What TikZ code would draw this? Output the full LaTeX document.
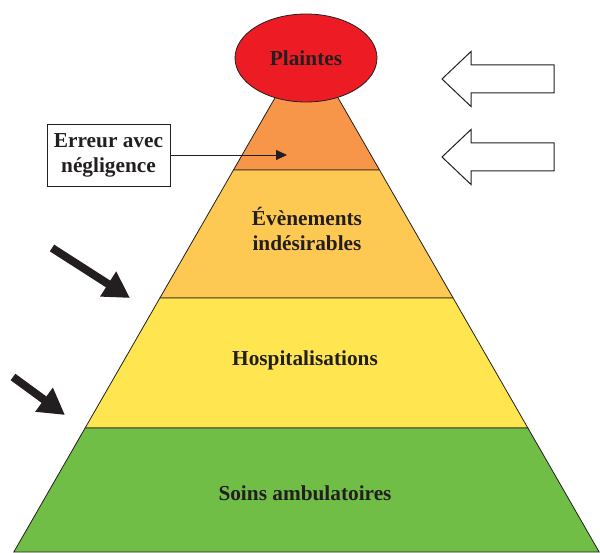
\documentclass[tikz,border=0pt]{standalone}
\usepackage{fontspec}
\setmainfont{Liberation Serif}
\usetikzlibrary{shapes.geometric,arrows.meta}
\definecolor{rouge}{RGB}{237,28,36}
\definecolor{orangetop}{RGB}{247,150,72}
\definecolor{orangemid}{RGB}{254,201,82}
\definecolor{jaune}{RGB}{255,230,80}
\definecolor{vert}{RGB}{112,190,70}
\definecolor{texte}{RGB}{35,31,32}
\begin{document}
\begin{tikzpicture}[x=1pt, y=1pt, >={Triangle[length=11pt,width=10pt]}]
      \tikzstyle{label}=[text=texte, font=\fontsize{21.3}{25}\selectfont\bfseries, align=center]
      \tikzstyle{niveau}=[draw=texte, line width=0.8pt]
      \useasboundingbox (0,0) rectangle (600,552);

      % draw pyramid levels

      \foreach \t/\b/\c in {509/382/orangetop, 382/254/orangemid, 254/124/jaune, 124/0/vert}
      \filldraw [niveau, fill=\c] ({306.5-0.575*(509-\t)},\t) -- ({306.5+0.575*(509-\t)},\t)
          -- ({306.5+0.575*(509-\b)},\b) -- ({306.5-0.575*(509-\b)},\b) -- cycle;

      \node [niveau, ellipse, fill=rouge, minimum width=142, minimum height=88, label] (plaintes) at (306,494) {Plaintes};

      % draw text

      \node [label] (evenements) at (307,323) {Évènements\\indésirables};
      \node [label] (hospit) at (305,192) {Hospitalisations};
      \node [label] (soins) at (305,59) {Soins ambulatoires};

      \node [label, draw=texte, line width=0.8pt, fill=white, minimum width=123, minimum height=62, inner sep=2pt] (erreur) at (108.5,397) {Erreur avec\\négligence};
      \coordinate (err-tip) at (287,397);
      \draw [->, texte, line width=0.8pt] (erreur) -- (err-tip);

      % draw hollow arrows

      \foreach \y in {473,395}
      \draw [texte, line width=1pt, fill=white] (442,\y) -- (471,\y+27.5) -- (471,\y+14) -- (554,\y+14)
          -- (554,\y-14) -- (471,\y-14) -- (471,\y-27.5) -- cycle;

      % draw black arrows

      \coordinate (haut-a) at (52,304);
      \coordinate (haut-b) at (130,254);
      \coordinate (bas-a) at (13,175);
      \coordinate (bas-b) at (65,137);
      \draw [-{Triangle[length=26pt,width=28pt]}, texte, line width=8pt] (haut-a) -- (haut-b);
      \draw [-{Triangle[length=26pt,width=28pt]}, texte, line width=8pt] (bas-a) -- (bas-b);

    \end{tikzpicture}
\end{document}
